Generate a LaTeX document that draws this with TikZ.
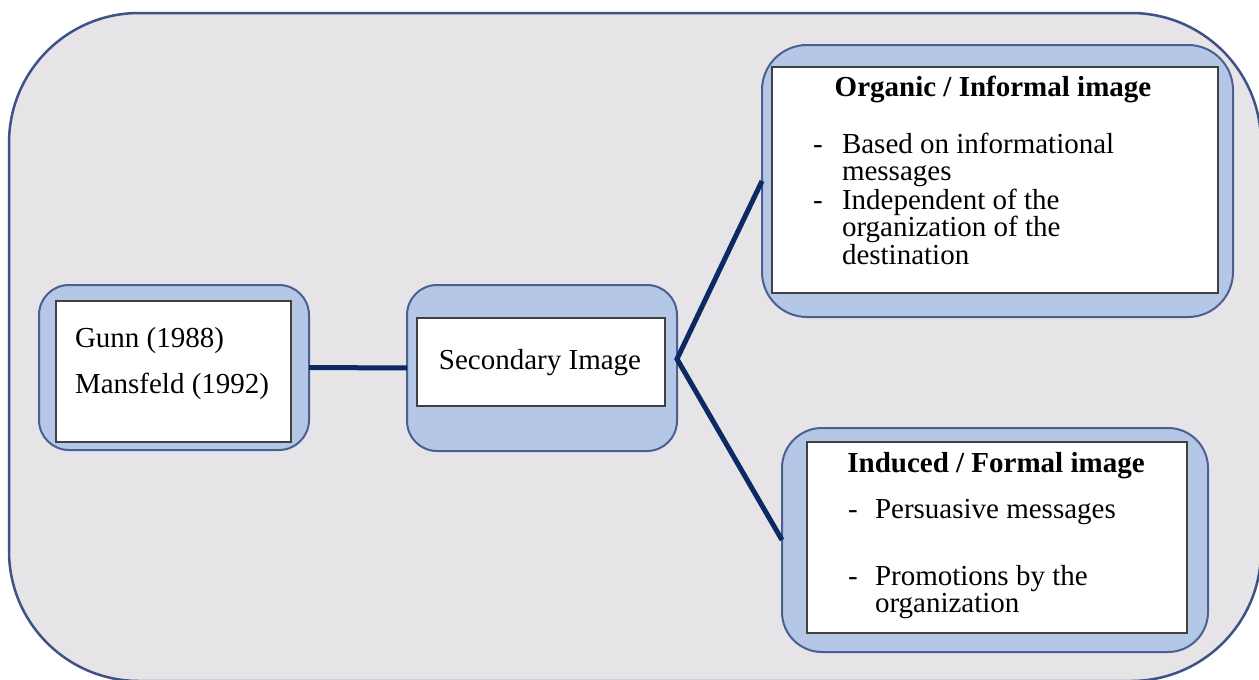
\documentclass[tikz,border=0pt]{standalone}
\usepackage{fontspec}
\setmainfont{Liberation Serif}
\definecolor{bggrey}{HTML}{E6E4E6}
\definecolor{outerblue}{HTML}{3E5288}
\definecolor{boxblue}{HTML}{B4C7E7}
\definecolor{boxedge}{HTML}{4A6090}
\definecolor{navy}{HTML}{0B2A63}
\definecolor{inkedge}{HTML}{404040}
\begin{document}
\begin{tikzpicture}[x=1pt,y=-1pt,
  framebox/.style={draw=outerblue, line width=2.5pt, fill=bggrey, rounded corners=130pt, inner sep=0pt, outer sep=0pt},
  bluebox/.style={draw=boxedge, line width=2pt, fill=boxblue, rounded corners=#1, inner sep=0pt, outer sep=0pt},
  whitebox/.style={draw=inkedge, line width=1.5pt, fill=white, inner sep=0pt, outer sep=0pt},
  txt/.style={inner sep=0pt, outer sep=0pt, font=\fontsize{29}{28}\selectfont},
  ttl/.style={txt, font=\fontsize{29}{28}\selectfont\bfseries},
  item/.style={txt, text width=330pt, align=flush left, font=\fontsize{29}{27.5}\selectfont},
  conn/.style={draw=navy, line width=5pt, line join=miter}]
\useasboundingbox (0,0) rectangle (1259,680);
\clip (0,0) rectangle (1259,680);
% outer frame
\node[framebox, minimum width=1252pt, minimum height=668pt] (frame) at (635,347) {};
% blue boxes
\node[bluebox=30pt, minimum width=270pt, minimum height=165pt] (gunnbox) at (174,367.5) {};
\node[whitebox, minimum width=235pt, minimum height=141pt] (gunnwhite) at (173.5,371.5) {};
\node[bluebox=30pt, minimum width=270pt, minimum height=166pt] (secbox) at (542,368) {};
\node[whitebox, minimum width=248pt, minimum height=88pt] (secwhite) at (541,362) {};
\node[bluebox=45pt, minimum width=471pt, minimum height=272pt] (orgbox) at (997.5,181) {};
\node[whitebox, minimum width=446pt, minimum height=226pt] (orgwhite) at (995,180) {};
\node[bluebox=40pt, minimum width=426pt, minimum height=224pt] (indbox) at (995,540) {};
\node[whitebox, minimum width=380pt, minimum height=191pt] (indwhite) at (997,537.5) {};
% texts
\node[txt, anchor=base west] (gunn) at (75,347) {Gunn (1988)};
\node[txt, anchor=base west] (mans) at (75,393) {Mansfeld (1992)};
\node[txt, anchor=base] (sec) at (540,369) {Secondary Image};
\node[ttl, anchor=base] (orgtitle) at (993,96) {Organic / Informal image};
\node[txt, anchor=base west] (orgd1) at (813,153) {-};
\node[item, anchor=base west] (orgi1) at (842,153) {Based on informational\\messages};
\node[txt, anchor=base west] (orgd2) at (813,209) {-};
\node[item, anchor=base west] (orgi2) at (842,209) {Independent of the\\organization of the\\destination};
\node[ttl, anchor=base] (indtitle) at (996,472) {Induced / Formal image};
\node[txt, anchor=base west] (indd1) at (848,518) {-};
\node[txt, anchor=base west] (indl1) at (875,518) {Persuasive messages};
\node[txt, anchor=base west] (indd2) at (848,585) {-};
\node[item, anchor=base west, text width=300pt] (indi2) at (875,585) {Promotions by the\\organization};
% connectors
\coordinate (vtx) at ([yshift=9pt]secbox.east);
\draw[conn] (gunnbox.east) -- (secbox.west);
\draw[conn] (orgbox.west) -- (vtx) -- (indbox.west);
\end{tikzpicture}
\end{document}
